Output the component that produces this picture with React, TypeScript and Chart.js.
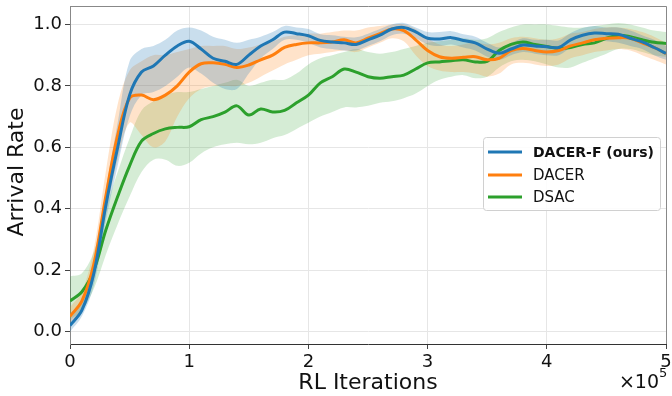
import { useEffect, useRef } from "react";
import { Chart, registerables } from "chart.js";
Chart.register(...registerables);

const FONT = '"DejaVu Sans", sans-serif';

// RL iterations (x 1e5)
const X = [
  0.0, 0.1, 0.2, 0.3, 0.4, 0.5, 0.6, 0.7, 0.8, 0.9,
  1.0, 1.1, 1.2, 1.3, 1.4, 1.5, 1.6, 1.7, 1.8, 1.9,
  2.0, 2.1, 2.2, 2.3, 2.4, 2.5, 2.6, 2.7, 2.8, 2.9,
  3.0, 3.1, 3.2, 3.3, 3.4, 3.5, 3.6, 3.7, 3.8, 3.9,
  4.0, 4.1, 4.2, 4.3, 4.4, 4.5, 4.6, 4.7, 4.8, 4.9, 5.0,
];

const X_TICKS = [0, 1, 2, 3, 4, 5];
const Y_TICKS = [0.0, 0.2, 0.4, 0.6, 0.8, 1.0];

// DACER-F (ours)
const BLUE = [
  0.02, 0.07, 0.19, 0.41, 0.6, 0.77, 0.845, 0.865, 0.9, 0.93,
  0.945, 0.92, 0.89, 0.88, 0.87, 0.9, 0.93, 0.95, 0.975, 0.97,
  0.963, 0.948, 0.943, 0.94, 0.935, 0.95, 0.965, 0.985, 0.99, 0.976,
  0.955, 0.953, 0.957, 0.948, 0.94, 0.92, 0.906, 0.92, 0.933, 0.93,
  0.927, 0.925, 0.95, 0.965, 0.972, 0.97, 0.968, 0.955, 0.943, 0.925, 0.906,
];
const BLUE_LO = [
  0.0, 0.05, 0.15, 0.36, 0.54, 0.7, 0.77, 0.78, 0.8, 0.83,
  0.86, 0.84, 0.81, 0.79, 0.79, 0.84, 0.89, 0.92, 0.95, 0.95,
  0.94, 0.925, 0.92, 0.915, 0.915, 0.93, 0.945, 0.965, 0.97, 0.955,
  0.935, 0.93, 0.935, 0.925, 0.915, 0.895, 0.885, 0.9, 0.91, 0.905,
  0.9, 0.9, 0.925, 0.94, 0.95, 0.945, 0.94, 0.93, 0.92, 0.9, 0.885,
];
const BLUE_HI = [
  0.04, 0.1, 0.22, 0.46, 0.68, 0.88, 0.92, 0.93, 0.95, 0.98,
  0.99, 0.98, 0.96, 0.95, 0.94, 0.95, 0.96, 0.975, 0.995, 0.99,
  0.985, 0.968, 0.965, 0.96, 0.958, 0.97, 0.985, 1.0, 1.005, 0.99,
  0.975, 0.975, 0.978, 0.968, 0.96, 0.94, 0.925, 0.94, 0.955, 0.95,
  0.95, 0.948, 0.972, 0.988, 0.995, 0.99, 0.99, 0.98, 0.965, 0.95, 0.93,
];

// DACER
const ORANGE = [
  0.05, 0.1, 0.22, 0.44, 0.64, 0.76, 0.77, 0.755, 0.77, 0.8,
  0.845, 0.872, 0.875, 0.87, 0.86, 0.868, 0.885, 0.9, 0.925, 0.935,
  0.94, 0.94, 0.943, 0.95, 0.94, 0.955, 0.97, 0.985, 0.98, 0.95,
  0.915, 0.895, 0.89, 0.893, 0.895, 0.885, 0.89, 0.915, 0.922, 0.915,
  0.91, 0.915, 0.93, 0.94, 0.95, 0.955, 0.957, 0.955, 0.94, 0.925, 0.905,
];
const ORANGE_LO = [
  0.03, 0.07, 0.17, 0.38, 0.56, 0.68, 0.64, 0.6, 0.62, 0.7,
  0.76, 0.79, 0.8, 0.8, 0.8, 0.81, 0.83, 0.85, 0.87, 0.885,
  0.9, 0.905, 0.91, 0.915, 0.91, 0.925, 0.94, 0.955, 0.945, 0.9,
  0.865, 0.85, 0.845, 0.845, 0.84, 0.83, 0.84, 0.87, 0.875, 0.87,
  0.865, 0.87, 0.89, 0.9, 0.91, 0.915, 0.92, 0.915, 0.9, 0.885, 0.87,
];
const ORANGE_HI = [
  0.08, 0.13, 0.27, 0.52, 0.74, 0.85, 0.88, 0.9, 0.9, 0.91,
  0.92, 0.93, 0.93, 0.93, 0.92, 0.925, 0.935, 0.945, 0.96, 0.965,
  0.97, 0.97, 0.975, 0.98, 0.98, 0.99, 0.995, 1.0, 1.0, 0.985,
  0.955, 0.935, 0.93, 0.935, 0.94, 0.935, 0.94, 0.955, 0.96, 0.955,
  0.95, 0.955, 0.97, 0.975, 0.985, 0.99, 0.99, 0.985, 0.975, 0.96, 0.94,
];

// DSAC
const GREEN = [
  0.1, 0.13, 0.2, 0.33, 0.44, 0.54, 0.62, 0.645, 0.66, 0.665,
  0.667, 0.69, 0.7, 0.715, 0.735, 0.705, 0.725, 0.715, 0.72, 0.745,
  0.77, 0.81, 0.83, 0.855, 0.845, 0.83, 0.825, 0.83, 0.835, 0.855,
  0.875, 0.878, 0.882, 0.885, 0.878, 0.88, 0.915, 0.935, 0.943, 0.935,
  0.928, 0.922, 0.925, 0.935, 0.94, 0.955, 0.965, 0.96, 0.95, 0.942, 0.938,
];
const GREEN_LO = [
  0.04, 0.07, 0.14, 0.25, 0.35, 0.44, 0.52, 0.56, 0.56, 0.54,
  0.55, 0.58, 0.6, 0.61, 0.615, 0.61, 0.615, 0.63, 0.64, 0.66,
  0.68, 0.7, 0.715, 0.73, 0.73, 0.735, 0.745, 0.75, 0.76, 0.775,
  0.8, 0.82, 0.83, 0.835, 0.825, 0.83, 0.86, 0.88, 0.885, 0.88,
  0.87, 0.86, 0.86, 0.875, 0.89, 0.905, 0.92, 0.92, 0.91, 0.9, 0.895,
];
const GREEN_HI = [
  0.18, 0.19, 0.26, 0.4, 0.52, 0.63, 0.72, 0.75, 0.77, 0.78,
  0.78, 0.79, 0.8, 0.81, 0.82, 0.8, 0.81, 0.82, 0.82, 0.84,
  0.87, 0.89, 0.9, 0.91, 0.92, 0.91, 0.905, 0.91, 0.92, 0.93,
  0.94, 0.945, 0.95, 0.955, 0.95, 0.955, 0.975, 0.99, 1.0, 1.0,
  1.0, 0.995, 0.99, 0.99, 0.995, 1.0, 1.005, 1.0, 0.99, 0.98, 0.975,
];

const SERIES = [
  { label: "DACER-F (ours)", color: "#1f77b4", fillc: "rgba(31,119,180,0.24)", bold: true },
  { label: "DACER", color: "#ff7f0e", fillc: "rgba(255,127,14,0.22)", bold: false },
  { label: "DSAC", color: "#2ca02c", fillc: "rgba(44,160,44,0.2)", bold: false },
];

const pts = (arr: number[]) => X.map((x, i) => ({ x, y: arr[i] }));

const overlay = {
  id: "overlay",
  afterDraw(chart: any) {
    const ctx = chart.ctx;
    const a = chart.chartArea;
    ctx.save();
    // top and right frame
    ctx.strokeStyle = "#888";
    ctx.lineWidth = 1;
    ctx.beginPath();
    ctx.moveTo(a.left, Math.round(a.top) + 0.5);
    ctx.lineTo(Math.round(a.right) + 0.5, Math.round(a.top) + 0.5);
    ctx.lineTo(Math.round(a.right) + 0.5, a.bottom);
    ctx.stroke();

    // axis titles
    ctx.fillStyle = "#111";
    ctx.font = `22px ${FONT}`;
    ctx.textAlign = "center";
    ctx.textBaseline = "middle";
    ctx.fillText("RL Iterations", 368, 383);
    ctx.save();
    ctx.translate(17, 172);
    ctx.rotate(-Math.PI / 2);
    ctx.fillText("Arrival Rate", 0, 0);
    ctx.restore();

    // offset text x10^5
    ctx.font = `19px ${FONT}`;
    ctx.textAlign = "right";
    ctx.textBaseline = "alphabetic";
    ctx.fillText("\u00d710", 659, 388);
    ctx.font = `13px ${FONT}`;
    ctx.textAlign = "left";
    ctx.fillText("5", 659, 377);

    // legend
    const lx = 483, ly = 137, lw = 177, lh = 73;
    ctx.fillStyle = "rgba(255,255,255,0.85)";
    ctx.strokeStyle = "#d0d0d0";
    ctx.lineWidth = 1;
    ctx.beginPath();
    (ctx as any).roundRect(lx + 0.5, ly + 0.5, lw, lh, 3);
    ctx.fill();
    ctx.stroke();
    const rows = [152, 175, 197];
    SERIES.forEach((s, i) => {
      const y = rows[i];
      ctx.strokeStyle = s.color;
      ctx.lineWidth = 3;
      ctx.beginPath();
      ctx.moveTo(488, y);
      ctx.lineTo(522, y);
      ctx.stroke();
      ctx.fillStyle = "#111";
      ctx.font = `${s.bold ? "bold 14px" : "15px"} ${FONT}`;
      ctx.textAlign = "left";
      ctx.textBaseline = "middle";
      ctx.fillText(s.label, 533, y + 1);
    });
    ctx.restore();
  },
};

export default function App() {
  const ref = useRef<HTMLCanvasElement | null>(null);
  useEffect(() => {
    document.body.style.margin = "0";
    const lineDs = (i: number, arr: number[]) => ({
      label: SERIES[i].label,
      data: pts(arr),
      borderColor: SERIES[i].color,
      backgroundColor: SERIES[i].color,
      borderWidth: 3,
      pointRadius: 0,
      tension: 0.35,
      fill: false,
    });
    const bandDs = (i: number, arr: number[], target: number | false) => ({
      label: SERIES[i].label + " band",
      data: pts(arr),
      borderColor: "transparent",
      backgroundColor: SERIES[i].fillc,
      borderWidth: 0,
      pointRadius: 0,
      tension: 0.35,
      fill: target === false ? false : { target },
    });
    const chart = new Chart(ref.current as HTMLCanvasElement, {
      type: "line",
      data: {
        datasets: [
          lineDs(0, BLUE),
          lineDs(1, ORANGE),
          lineDs(2, GREEN),
          bandDs(0, BLUE_LO, false),
          bandDs(0, BLUE_HI, 3),
          bandDs(1, ORANGE_LO, false),
          bandDs(1, ORANGE_HI, 5),
          bandDs(2, GREEN_LO, false),
          bandDs(2, GREEN_HI, 7),
        ] as any,
      },
      options: {
        animation: false,
        responsive: false,
        devicePixelRatio: 1,
        layout: { padding: { top: 6, right: 6, left: 0, bottom: 0 } },
        plugins: { legend: { display: false }, tooltip: { enabled: false } },
        scales: {
          x: {
            type: "linear",
            min: 0,
            max: 5,
            afterBuildTicks: (s: any) => {
              s.ticks = X_TICKS.map((v) => ({ value: v }));
            },
            afterFit: (s: any) => {
              s.height = 52;
              s.paddingLeft = 0;
              s.paddingRight = 0;
            },
            ticks: {
              font: { family: FONT, size: 18 },
              color: "#111",
              padding: 3,
              maxRotation: 0,
              callback: (v: any) => String(v),
            },
            grid: { color: "#e6e6e6", tickColor: "#444", tickLength: 5 },
            border: { color: "#333", width: 1 },
          },
          y: {
            type: "linear",
            min: -0.04,
            max: 1.06,
            afterBuildTicks: (s: any) => {
              s.ticks = Y_TICKS.map((v) => ({ value: v }));
            },
            afterFit: (s: any) => {
              s.width = 70;
              s.paddingTop = 0;
              s.paddingBottom = 0;
            },
            ticks: {
              font: { family: FONT, size: 18 },
              color: "#111",
              padding: 3,
              callback: (v: any) => Number(v).toFixed(1),
            },
            grid: { color: "#e6e6e6", tickColor: "#444", tickLength: 5 },
            border: { color: "#888", width: 1 },
          },
        },
      } as any,
      plugins: [overlay],
    });
    return () => chart.destroy();
  }, []);
  return <canvas ref={ref} width={672} height={396} style={{ display: "block", width: 672, height: 396 }} />;
}
